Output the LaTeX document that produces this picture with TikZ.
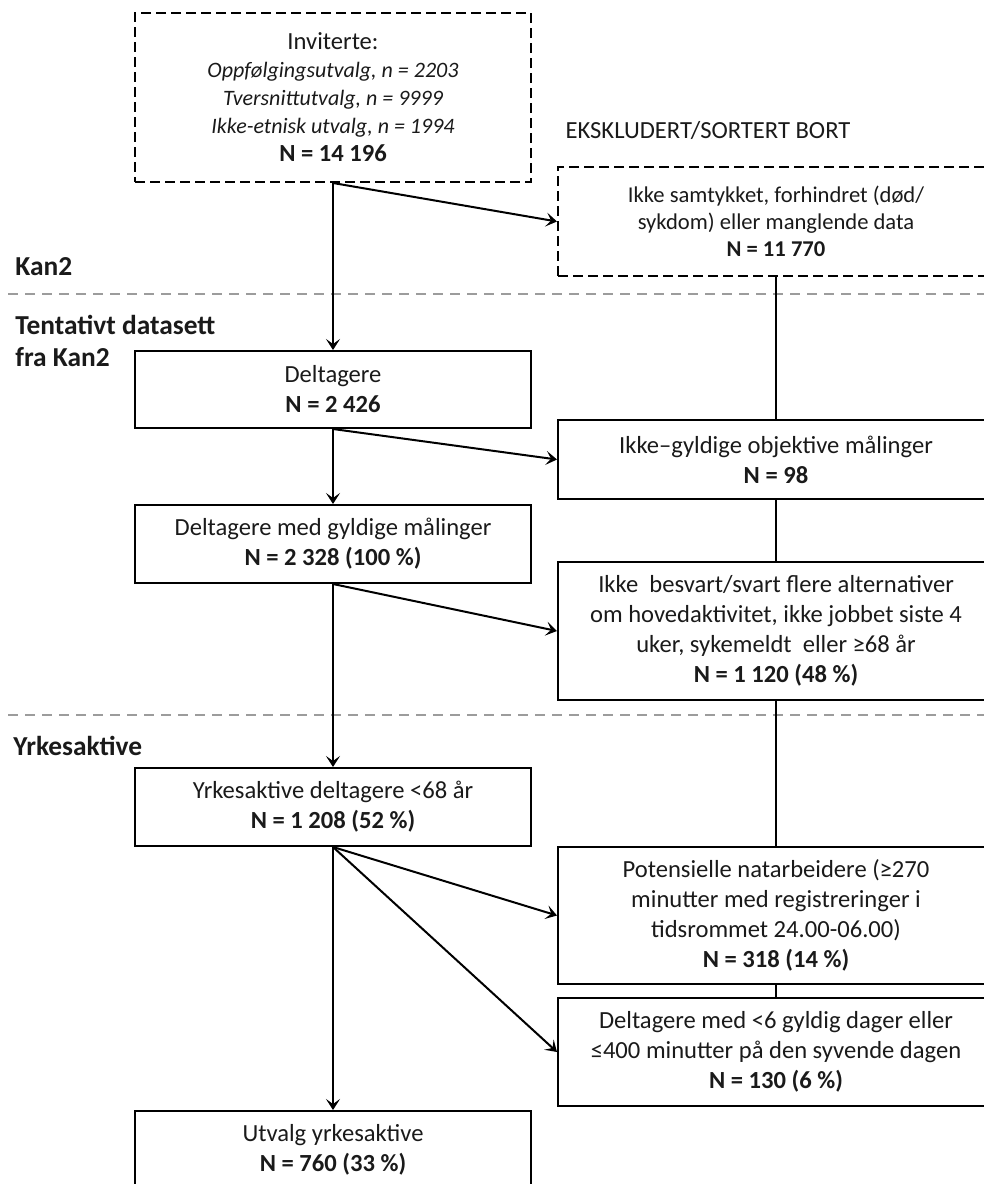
\documentclass[tikz,border=0pt]{standalone}
\usepackage{fontspec}
\setmainfont{Carlito}
\usepackage{xcolor}
\usepackage{tikz}
\usetikzlibrary{positioning, arrows.meta, calc}
\definecolor{sectiongray}{HTML}{9C9C9C}
\definecolor{boxtext}{HTML}{1A1A1A}

\tikzset{
  flowbox/.style={draw, line width=1pt, align=center, inner sep=2pt,
                  minimum width=198pt, text=boxtext,
                  font=\fontsize{12.3}{15}\selectfont},
  exclbox/.style={flowbox, minimum width=218pt},
  dashbox/.style={dash pattern=on 5pt off 2.5pt},
  flowarrow/.style={-{Stealth[length=5.5pt, width=7pt, inset=2.5pt]}, line width=1pt},
  flowline/.style={line width=1pt},
  sectionline/.style={draw=sectiongray, line width=0.8pt, dash pattern=on 5pt off 3.5pt},
  sectionlabel/.style={font=\fontsize{13.7}{16}\selectfont\bfseries, align=left,
                       anchor=west, inner sep=0pt, text=boxtext}
}

\begin{document}
\begin{tikzpicture}[x=0.5pt, y=-0.5pt]
  \useasboundingbox (0,0) rectangle (984,1184);
  \clip (0,0) rectangle (984,1184);

  % section lines and labels
  \draw[sectionline] (8,294) -- (984,294);
  \draw[sectionline] (8,715) -- (984,715);
  \node[sectionlabel] (kan) at (15,267) {Kan2};
  \node[sectionlabel] (tentativt) at (15,341) {Tentativt datasett\\fra Kan2};
  \node[sectionlabel] (yrke) at (13,746) {Yrkesaktive};
  \node[font=\fontsize{12.3}{14}\selectfont, text=boxtext] (ekskl) at (708,130) {EKSKLUDERT/SORTERT BORT};

  % left column
  \node[flowbox, dashbox, minimum height=84.5pt, font=\fontsize{12.3}{14}\selectfont] (invited) at (333,97.5) {%
    Inviterte:\\
    {\fontsize{11}{14}\selectfont\itshape Oppfølgingsutvalg, n = 2203}\\
    {\fontsize{11}{14}\selectfont\itshape Tversnittutvalg, n = 9999}\\
    {\fontsize{11}{14}\selectfont\itshape Ikke-etnisk utvalg, n = 1994}\\
    \textbf{N = 14 196}};
  \node[flowbox, minimum height=38.5pt] (delt) at (333,389.5) {Deltagere\\\textbf{N = 2 426}};
  \node[flowbox, minimum height=39pt] (gyldig) at (333,544) {Deltagere med gyldige målinger\\\textbf{N = 2 328 (100 \%)}};
  \node[flowbox, minimum height=39pt] (yrkesakt) at (333,807) {Yrkesaktive deltagere <68 år\\\textbf{N = 1 208 (52 \%)}};
  \node[flowbox, minimum height=39pt] (utvalg) at (333,1150) {Utvalg yrkesaktive\\\textbf{N = 760 (33 \%)}};

  % right column
  \node[exclbox, dashbox, minimum height=54.5pt, font=\fontsize{11.3}{13.5}\selectfont] (samtykke) at (776,221.5) {%
    Ikke samtykket, forhindret (død/\\sykdom) eller manglende data\\\textbf{N = 11 770}};
  \node[exclbox, minimum height=39.5pt] (ugyldig) at (776,459.5) {Ikke--gyldige objektive målinger\\\textbf{N = 98}};
  \node[exclbox, minimum height=69pt] (ikkejobb) at (776,631) {%
    Ikke\ \ besvart/svart flere alternativer\\
    om hovedaktivitet, ikke jobbet siste 4\\
    uker, sykemeldt\ \ eller ≥68 år\\
    \textbf{N = 1 120 (48 \%)}};
  \node[exclbox, minimum height=68.5pt] (natt) at (776,915.5) {%
    Potensielle natarbeidere (≥270\\
    minutter med registreringer i\\
    tidsrommet 24.00-06.00)\\
    \textbf{N = 318 (14 \%)}};
  \node[exclbox, minimum height=54pt] (dager) at (776,1052) {%
    Deltagere med <6 gyldig dager eller\\
    ≤400 minutter på den syvende dagen\\
    \textbf{N = 130 (6 \%)}};

  % connectors
  \draw[flowarrow] (invited.south) -- (delt.north);
  \draw[flowarrow] (invited.south) -- (samtykke.west);
  \draw[flowarrow] (delt.south) -- (gyldig.north);
  \draw[flowarrow] (delt.south) -- (ugyldig.west);
  \draw[flowarrow] (gyldig.south) -- (yrkesakt.north);
  \draw[flowarrow] (gyldig.south) -- (ikkejobb.west);
  \draw[flowarrow] (yrkesakt.south) -- (utvalg.north);
  \draw[flowarrow] (yrkesakt.south) -- (natt.west);
  \draw[flowarrow] (yrkesakt.south) -- (dager.west);

  \draw[flowline] (samtykke.south) -- (ugyldig.north);
  \draw[flowline] (ugyldig.south) -- (ikkejobb.north);
  \draw[flowline] (ikkejobb.south) -- (natt.north);
  \draw[flowline] (natt.south) -- (dager.north);
\end{tikzpicture}
\end{document}
